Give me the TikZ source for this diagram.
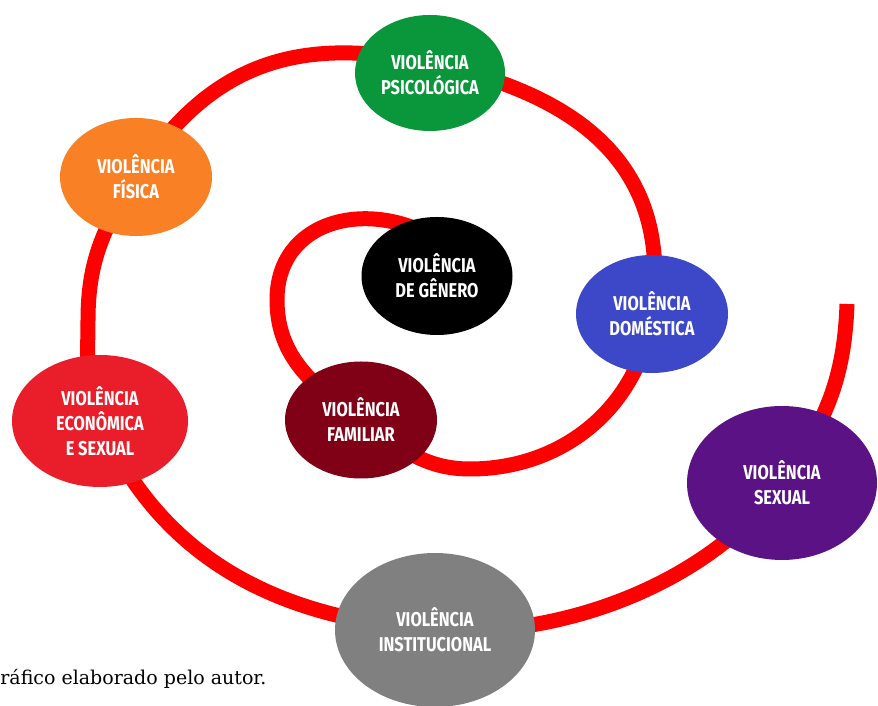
\documentclass[tikz,border=0pt]{standalone}
\usepackage{fontspec}
\newfontfamily\blobfont[FakeStretch=0.82]{Fira Sans}
\newfontfamily\notefont{DejaVu Serif}
\usetikzlibrary{shapes.geometric,backgrounds}
\definecolor{psicgreen}{RGB}{10,150,58}
\definecolor{fisorange}{RGB}{250,128,38}
\definecolor{domblue}{RGB}{61,72,200}
\definecolor{famred}{RGB}{128,0,22}
\definecolor{ecored}{RGB}{233,30,42}
\definecolor{sexpurple}{RGB}{90,18,132}
\definecolor{instgray}{RGB}{128,128,128}
\begin{document}
\begin{tikzpicture}[x=0.5pt, y=0.5pt,
	every node/.style={font=\blobfont\bfseries\fontsize{10}{12.5}\selectfont},
	blob/.style={ellipse, inner sep=0pt, text=white, align=center},
	spiral/.style={draw=red, line width=7.5pt}]
\useasboundingbox (0,0) rectangle (878,706);
\foreach \nm/\xx/\yy/\w/\h/\col/\txt in {
	psic/430/633/150/116/psicgreen/{VIOLÊNCIA\\PSICOLÓGICA},
	fis/136/529/152/118/fisorange/{VIOLÊNCIA\\FÍSICA},
	gen/437/430/151/118/black/{VIOLÊNCIA\\DE GÊNERO},
	dom/652/392/152/118/domblue/{VIOLÊNCIA\\DOMÉSTICA},
	fam/361/286/152/117/famred/{VIOLÊNCIA\\FAMILIAR},
	eco/100/285/176/132/ecored/{VIOLÊNCIA\\ECONÔMICA\\E SEXUAL},
	sex/782/223/190/154/sexpurple/{VIOLÊNCIA\\SEXUAL},
	inst/435/76/200/154/instgray/{VIOLÊNCIA\\INSTITUCIONAL}} {
	\node[blob, fill=\col, minimum width=\w*0.5pt, minimum height=\h*0.5pt] (\nm) at (\xx,\yy) {\txt};
}
\coordinate (start) at (435,468);
\coordinate (lp) at (277,406);
\coordinate (bt) at (470,237);
\coordinate (lo) at (88,386);
\coordinate (tip) at (847,402);
% spiral behind the ellipses
\begin{pgfonlayer}{background}
\draw[spiral] (start) to[out=150, in=90, looseness=1.2] (lp)
	to[out=270, in=145] (fam.center)
	to[out=-35, in=180] (bt)
	to[out=0, in=262] (dom.center)
	to[out=82, in=-12, looseness=1.15] ([yshift=5pt]psic.center)
	to[out=168, in=57, looseness=1.1] (fis.center)
	to[out=237, in=90] (lo)
	to[out=270, in=114] (eco.center)
	to[out=294, in=176] (inst.center)
	to[out=-4, in=234, looseness=0.85] (sex.center)
	to[out=54, in=268] (tip);
\end{pgfonlayer}
\node[font=\notefont\fontsize{9.5}{12}\selectfont, anchor=base west, inner sep=0pt] (src) at (0,21) {ráfico elaborado pelo autor.};
\end{tikzpicture}
\end{document}
